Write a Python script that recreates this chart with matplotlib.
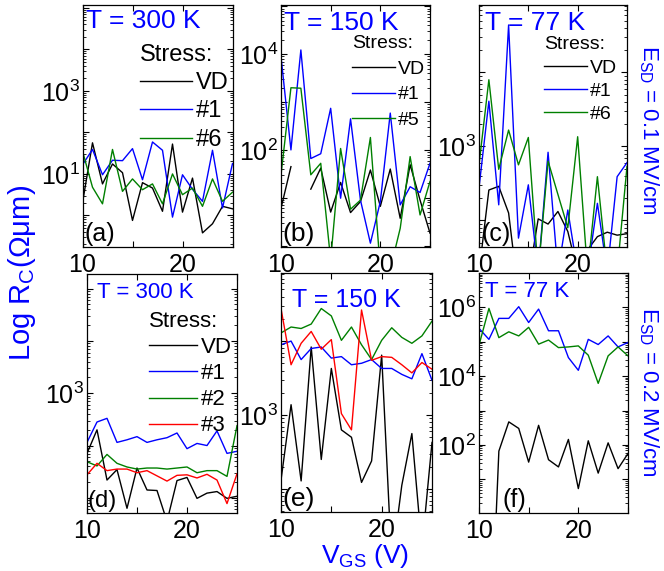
import numpy as np
import matplotlib
matplotlib.use("Agg")
import matplotlib.pyplot as plt
from matplotlib.ticker import FixedLocator, FuncFormatter, LogLocator, NullFormatter

plt.rcParams['font.family'] = 'Liberation Sans'
plt.rcParams['mathtext.fontset'] = 'custom'
plt.rcParams['mathtext.rm'] = 'Liberation Sans'
plt.rcParams['mathtext.it'] = 'Liberation Sans:italic'
plt.rcParams['mathtext.bf'] = 'Liberation Sans:bold'

BLUE = '#0000ff'
GREEN = '#008000'

vgs = np.arange(10, 26)

# log10(R_C), one value per volt (10..25 V)
# E_SD = 0.1 MV/cm
a_vd = [0.3, 1.75, 0.76, 1.24, 1.03, -0.12, 0.79, 0.66, 0.1, 1.72, 0.08, 0.9, -0.42, -0.2, 0.22, 0.16]
a_s1 = [1.22, 1.59, 0.98, 1.33, 1.32, 1.61, 0.86, 1.77, 1.57, -0.04, 0.98, 0.63, 0.34, 1.57, 0.18, 1.25]
a_s6 = [1.55, 0.68, 0.28, 1.59, 0.58, 0.88, 0.62, 0.76, 0.28, 1.0, 0.5, 0.66, 0.22, 0.88, 0.34, 0.56]

b_vd = [0.78, 1.65, np.nan, 1.18, 1.62, 0.70, 1.32, 0.69, 0.92, 1.58, 0.82, 1.6, 0.57, 1.69, 0.95, 0.26]
b_s1 = [3.95, 2.0, 4.09, 1.82, 1.92, 2.87, 0.99, 2.65, 0.95, 0.05, 0.92, 2.77, 0.85, 1.23, 1.11, 1.72]
b_s5 = [1.48, 3.3, 3.29, 1.48, 1.72, -0.3, 2.03, 0.76, 0.95, 2.26, -0.5, -0.5, 0.36, 1.86, 0.64, 1.34]

c_vd = [1.3, 2.41, 2.46, 2.1, 1.0, 1.2, 2.02, 1.95, 2.12, 1.85, 1.3, 1.6, 1.78, 1.84, 1.80, 1.82]
c_s1 = [2.44, 3.61, 2.21, 4.64, 1.76, 2.48, 1.3, 2.92, 1.3, 2.14, 1.3, 1.3, 2.23, 1.3, 2.59, 2.78]
c_s6 = [2.75, 3.9, 2.69, 3.22, 2.75, 3.12, 1.3, 2.8, 2.35, 1.9, 3.13, 1.3, 2.59, 1.3, 1.3, 2.73]

# E_SD = 0.2 MV/cm
d_vd = [1.85, 2.3, 1.34, 1.54, 0.8, 1.57, 1.15, 1.14, 0.55, 1.33, 1.39, 0.99, 1.09, 1.12, 0.99, 1.03]
d_s1 = [2.06, 2.45, 2.52, 2.06, 2.11, 2.17, 2.06, 2.11, 2.15, 2.24, 1.94, 2.04, 2.0, 2.28, 1.85, 1.89]
d_s2 = [1.69, 1.61, 1.83, 1.66, 1.59, 1.55, 1.57, 1.57, 1.55, 1.57, 1.59, 1.48, 1.52, 1.52, 1.41, 2.38]
d_s3 = [1.44, 1.66, 1.52, 1.55, 1.55, 1.48, 1.52, 1.42, 1.32, 1.43, 1.44, 1.38, 1.45, 1.34, 0.89, 1.46]

e_vd = [2.12, 3.14, 2.11, 3.92, 2.4, 3.63, 2.8, 2.7, 2.09, 2.38, 3.81, 1.0, 2.05, 2.75, 1.2, 2.63]
e_s1 = [3.95, 4.0, 3.75, 3.9, 3.92, 3.77, 3.79, 3.68, 3.7, 3.75, 3.63, 3.63, 3.55, 3.49, 3.83, 3.47]
e_s2 = [4.11, 4.19, 4.17, 4.23, 4.44, 4.34, 4.01, 4.19, 3.95, 3.75, 4.01, 4.18, 4.05, 3.97, 4.07, 4.27]
e_s3 = [4.44, 3.68, 3.97, 4.13, 3.89, 4.02, 3.02, 2.8, 4.42, 3.74, 3.79, 3.78, 3.68, 3.57, 3.71, 3.62]

f_vd = [-5, -5, 1.82, 2.67, 2.48, 1.5, 2.57, 1.57, 1.36, 2.16, 0.73, 2.12, 1.18, 2.06, 1.31, 1.75]
f_s1 = [5.39, 5.07, 5.68, 5.68, 6.02, 5.56, 5.95, 5.32, 5.32, 4.54, 4.17, 5.07, 4.92, 5.17, 4.85, 4.98]
f_s6 = [4.9, 5.97, 5.12, 5.29, 5.17, 5.42, 4.93, 5.05, 4.83, 4.85, 4.88, 4.61, 3.79, 4.59, 4.85, 4.59]

W, H = 664, 571
fig = plt.figure(figsize=(W / 100, H / 100), dpi=100)


def box(x0, x1, y0, y1):
    return [x0 / W, 1 - y1 / H, (x1 - x0) / W, (y1 - y0) / H]


panels = [
    dict(pos=box(82.5, 232.5, 5, 247), ylim=(-0.76, 5.07), lab=[1, 3],
         series=[(a_vd, 'k', 'VD'), (a_s1, BLUE, '#1'), (a_s6, GREEN, '#6')],
         T='T = 300 K', Tfs=19, Txy=(0.02, 0.904), tag='(a)', tagx=0.01, tagfs=18,
         leg=(0.385, 0.84), legfs=17, lsp=0.27),
    dict(pos=box(281, 430, 5, 247), ylim=(-0.03, 5.03), lab=[2, 4],
         series=[(b_vd, 'k', 'VD'), (b_s1, BLUE, '#1'), (b_s5, GREEN, '#5')],
         T='T = 150 K', Tfs=19, Txy=(0.02, 0.897), tag='(b)', tagx=0.01, tagfs=19,
         leg=(0.475, 0.875), legfs=14, lsp=0.41),
    dict(pos=box(479, 627, 5, 247), ylim=(1.64, 4.91), lab=[3],
         series=[(c_vd, 'k', 'VD'), (c_s1, BLUE, '#1'), (c_s6, GREEN, '#6')],
         T='T = 77 K', Tfs=19, Txy=(0.04, 0.897), tag='(c)', tagx=0.02, tagfs=18,
         leg=(0.44, 0.87), legfs=14, lsp=0.28),
    dict(pos=box(87, 237, 274, 513), ylim=(0.71, 5.28), lab=[3],
         series=[(d_vd, 'k', 'VD'), (d_s1, BLUE, '#1'), (d_s2, GREEN, '#2'), (d_s3, 'r', '#3')],
         T='T = 300 K', Tfs=16, Txy=(0.065, 0.898), tag='(d)', tagx=0.005, tagfs=17,
         leg=(0.41, 0.845), legfs=16, lsp=0.23),
    dict(pos=box(281, 432, 273, 512), ylim=(1.69, 4.92), lab=[3],
         series=[(e_vd, 'k', None), (e_s1, BLUE, None), (e_s2, GREEN, None), (e_s3, 'r', None)],
         T='T = 150 K', Tfs=18, Txy=(0.07, 0.856), tag='(e)', tagx=0.01, tagfs=19,
         leg=None, legfs=0, lsp=0),
    dict(pos=box(479, 628, 273, 513), ylim=(0.02, 7.0), lab=[2, 4, 6],
         series=[(f_vd, 'k', None), (f_s1, BLUE, None), (f_s6, GREEN, None)],
         T='T = 77 K', Tfs=16, Txy=(0.04, 0.898), tag='(f)', tagx=0.16, tagfs=18,
         leg=None, legfs=0, lsp=0),
]

for p in panels:
    ax = fig.add_axes(p['pos'])
    for vals, col, lab in p['series']:
        ax.plot(vgs, 10.0 ** np.array(vals, dtype=float), color=col, lw=1.0, label=lab)
    ax.set_yscale('log')
    lo, hi = p['ylim']
    ax.set_ylim(10 ** lo, 10 ** hi)
    ax.set_xlim(10, 25)

    decades = np.arange(int(np.floor(lo)), int(np.ceil(hi)) + 1)
    ax.yaxis.set_major_locator(FixedLocator(10.0 ** decades))
    shown = p['lab']
    ax.yaxis.set_major_formatter(FuncFormatter(
        lambda v, pos, shown=shown: (r'$\mathdefault{10^{%d}}$' % round(np.log10(v)))
        if round(np.log10(v)) in shown else ''))
    ax.yaxis.set_minor_locator(LogLocator(base=10, subs=np.arange(2, 10), numticks=50))
    ax.yaxis.set_minor_formatter(NullFormatter())

    ax.set_xticks([10, 15, 20, 25])
    ax.set_xticklabels(['10', '', '20', ''])
    ax.tick_params(which='both', direction='in', top=True, right=True)
    ax.tick_params(which='major', length=4, width=0.8, labelsize=18, pad=2)
    ax.tick_params(axis='x', which='major', pad=4)
    ax.tick_params(which='minor', length=2, width=0.6)
    for s in ax.spines.values():
        s.set_linewidth(0.9)

    ax.text(p['Txy'][0], p['Txy'][1], p['T'], color=BLUE, fontsize=p['Tfs'],
            transform=ax.transAxes, ha='left', va='baseline')
    ax.text(p['tagx'], 0.005, p['tag'], fontsize=p['tagfs'],
            transform=ax.transAxes, ha='left', va='bottom')

    if p['leg'] is not None:
        ax.legend(title='Stress:', loc='upper left', bbox_to_anchor=p['leg'],
                  frameon=False, alignment='left', fontsize=p['legfs'],
                  title_fontsize=p['legfs'], handlelength=2.2, handletextpad=0.15,
                  labelspacing=p['lsp'], borderpad=0, borderaxespad=0)

fig.text(0.033, 0.522, r'Log R$_\mathrm{C}$(Ωμm)', color=BLUE, fontsize=21,
         rotation=90, ha='center', va='center')
fig.text(0.55, 0.026, r'V$_\mathrm{GS}$ (V)', color=BLUE, fontsize=19,
         ha='center', va='center')
fig.text(0.977, 1 - 130 / H, r'E$_\mathrm{SD}$ = 0.1 MV/cm', color=BLUE, fontsize=16,
         rotation=270, ha='center', va='center')
fig.text(0.977, 1 - 392 / H, r'E$_\mathrm{SD}$ = 0.2 MV/cm', color=BLUE, fontsize=16,
         rotation=270, ha='center', va='center')

fig.savefig('out.png', dpi=100)
